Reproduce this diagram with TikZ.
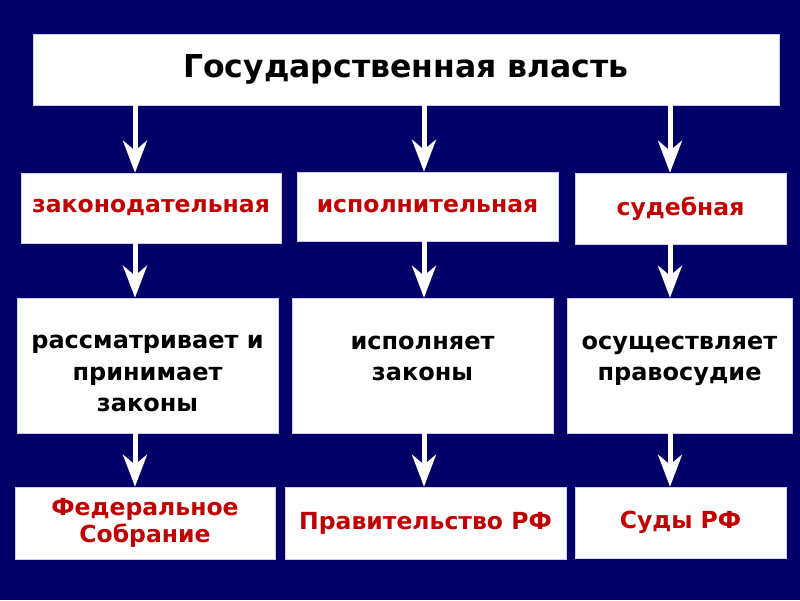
\documentclass[tikz,border=0pt]{standalone}
\usepackage{fontspec}
\setmainfont{DejaVu Sans}
\usetikzlibrary{arrows.meta}
\definecolor{bgblue}{RGB}{0,0,102}
\definecolor{redtxt}{RGB}{192,0,0}
\begin{document}
\begin{tikzpicture}[x=1pt,y=-1pt,
  box/.style={fill=white, draw=white!80!blue, line width=0.6pt, inner sep=0pt, align=center},
  titletxt/.style={font=\bfseries\fontsize{31.5}{38}\selectfont, text=black},
  redtxtst/.style={font=\bfseries\fontsize{23.5}{27}\selectfont, text=redtxt},
  blktxt/.style={font=\bfseries\fontsize{24}{31.5}\selectfont, text=black},
  arr/.style={draw=white, line width=5pt, -{Stealth[length=32pt,width=24pt,inset=10pt]}}]
\useasboundingbox (0,0) rectangle (800,600);
\fill[bgblue] (0,0) rectangle (800,600);
\coordinate (c1) at (135,0);
\coordinate (c2) at (424,0);
\coordinate (c3) at (670,0);
% top
\node[box, titletxt, minimum width=746pt, minimum height=71pt] (top) at (406,69.5) {Государственная власть};
% row 2
\node[box, redtxtst, minimum width=260pt, minimum height=70pt] (zak) at (151,208) {законодательная};
\node[box, redtxtst, minimum width=261pt, minimum height=69pt] (isp) at (427.5,206.5) {исполнительная};
\node[box, redtxtst, minimum width=211pt, minimum height=71pt] (sud) at (680.5,208.5) {судебная};
% row 3
\node[box, blktxt, minimum width=261pt, minimum height=135pt] (f1) at (147.5,365.5) {\rule{0pt}{30pt}рассматривает и\\принимает\\законы};
\node[box, blktxt, minimum width=261pt, minimum height=135pt] (f2) at (422.5,365.5) {\rule{0pt}{30pt}исполняет\\законы\\\mbox{}};
\node[box, blktxt, minimum width=225pt, minimum height=135pt] (f3) at (679.5,365.5) {\rule{0pt}{30pt}осуществляет\\правосудие\\\mbox{}};
% row 4
\node[box, redtxtst, minimum width=260pt, minimum height=72pt] (o1) at (145,523) {Федеральное\\Собрание};
\node[box, redtxtst, minimum width=281pt, minimum height=72pt] (o2) at (425.5,523) {Правительство РФ};
\node[box, redtxtst, minimum width=211pt, minimum height=71pt] (o3) at (680.5,522.5) {Суды РФ};
% arrows
\draw[arr] (top.south -| c1) -- (zak.north -| c1);
\draw[arr] (top.south -| c2) -- (isp.north -| c2);
\draw[arr] (top.south -| c3) -- (sud.north -| c3);
\draw[arr] (zak.south -| c1) -- (f1.north -| c1);
\draw[arr] (isp.south -| c2) -- (f2.north -| c2);
\draw[arr] (sud.south -| c3) -- (f3.north -| c3);
\draw[arr] (f1.south -| c1) -- (o1.north -| c1);
\draw[arr] (f2.south -| c2) -- (o2.north -| c2);
\draw[arr] (f3.south -| c3) -- (o3.north -| c3);
\end{tikzpicture}
\end{document}
